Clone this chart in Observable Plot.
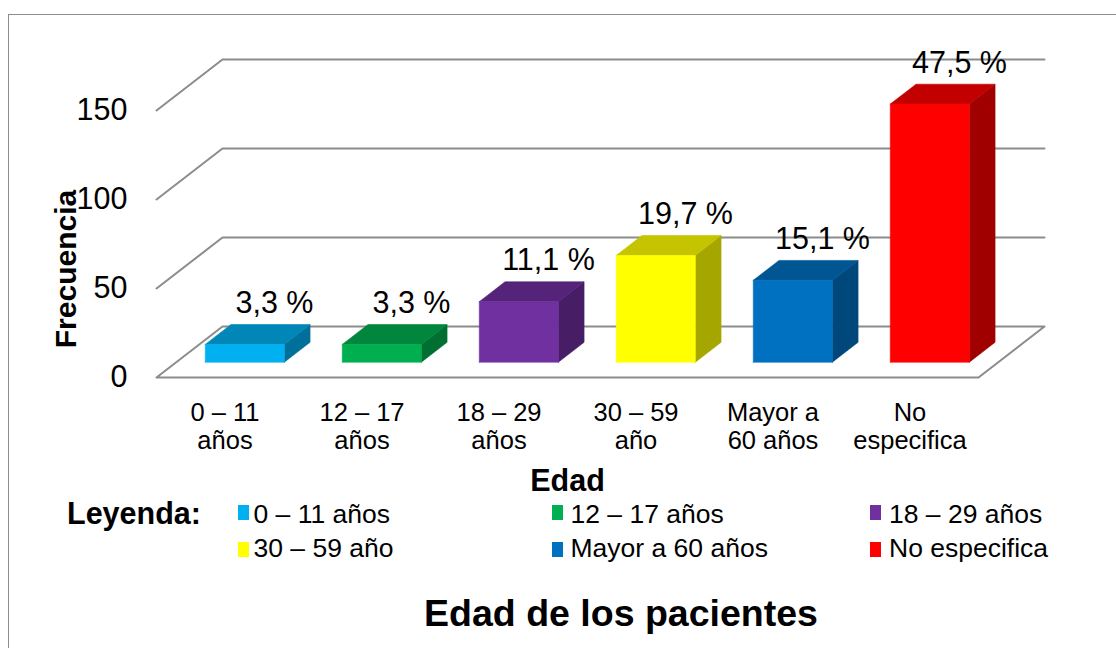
<!DOCTYPE html>
<html>
<head>
<meta charset="utf-8">
<script src="https://cdn.jsdelivr.net/npm/d3@7"></script>
<script src="https://cdn.jsdelivr.net/npm/@observablehq/plot@0.6"></script>
<style>
  html, body { margin: 0; padding: 0; background: #fff; }
  body { font-family: "Liberation Sans", Arial, sans-serif; color: #000; }
  #wrap { position: relative; width: 1116px; height: 648px; overflow: hidden; }
  #border { position: absolute; left: 8px; top: 14px; width: 1200px; height: 700px; border-left: 1px solid #8c8c8c; border-top: 1px solid #8c8c8c; box-sizing: border-box; }
  #chart { position: absolute; left: 0; top: 0; }
  .abs { position: absolute; white-space: nowrap; }
</style>
</head>
<body>
<div id="wrap">
  <div id="border"></div>
  <div id="chart"></div>
</div>
<script>
// ---- data ----
const categories = ["0 – 11 años", "12 – 17 años", "18 – 29 años", "30 – 59 año", "Mayor a 60 años", "No especifica"];
const axisLabels = ["0 – 11\naños", "12 – 17\naños", "18 – 29\naños", "30 – 59\naño", "Mayor a\n60 años", "No\nespecifica"];
const frecuencias = [10, 10, 34, 60, 46, 145];
const porcentajes = ["3,3 %", "3,3 %", "11,1 %", "19,7 %", "15,1 %", "47,5 %"];
const frontColors = ["#00B0F0", "#00B050", "#7030A0", "#FFFF00", "#0070C0", "#FF0000"];
const topColors   = ["#0087B8", "#00873D", "#55247A", "#C4C400", "#005693", "#C20000"];
const sideColors  = ["#00709A", "#006F32", "#471E66", "#A6A600", "#00487C", "#A00000"];
const yTicks = [0, 50, 100, 150];

// ---- 3D projection helpers (in data units) ----
const N = categories.length;
const DX = 66 / 137;       // full depth shift, x units
const DY = 51 / 1.78;      // full depth shift, y units
const D0 = 0.30, D1 = 0.69; // bar front/back depth fraction
const GAP = 0.2115;         // gap on each side of a bar within a category

// gridlines on the back wall + floor
const grid = [];
yTicks.forEach(t => {
  if (t === 0) {
    [[0, 0], [DX, DY], [N + DX, DY], [N, 0], [0, 0]].forEach(([x, y]) => grid.push({k: t, x, y: y + t}));
  } else {
    [[0, 0], [DX, DY], [N + DX, DY]].forEach(([x, y]) => grid.push({k: t, x, y: y + t}));
  }
});

const marks = [Plot.line(grid, {x: "x", y: "y", z: "k", stroke: "#8c8c8c", strokeWidth: 2})];

frecuencias.forEach((v, i) => {
  const xl = i + GAP, xr = i + 1 - GAP;
  const f = d => [d * DX, d * DY];
  const [a0, b0] = f(D0), [a1, b1] = f(D1);
  const front = [[xl + a0, b0], [xr + a0, b0], [xr + a0, v + b0], [xl + a0, v + b0]];
  const top = [[xl + a0, v + b0], [xr + a0, v + b0], [xr + a1, v + b1], [xl + a1, v + b1]];
  const side = [[xr + a0, b0], [xr + a0, v + b0], [xr + a1, v + b1], [xr + a1, b1]];
  const toPts = arr => arr.concat([arr[0]]).map(([x, y]) => ({x, y}));
  marks.push(Plot.line(toPts(side), {x: "x", y: "y", fill: sideColors[i], stroke: sideColors[i], strokeWidth: 0.6}));
  marks.push(Plot.line(toPts(top), {x: "x", y: "y", fill: topColors[i], stroke: topColors[i], strokeWidth: 0.6}));
  marks.push(Plot.line(toPts(front), {x: "x", y: "y", fill: frontColors[i], stroke: frontColors[i], strokeWidth: 0.6}));
});

// y tick labels
marks.push(Plot.text(yTicks, {x: () => 0, y: d => d, text: d => String(d), textAnchor: "end", dx: -29, fontSize: 30.5}));

// data labels (percentages)
const labelData = frecuencias.map((v, i) => ({i, v, t: porcentajes[i]}));
marks.push(Plot.text(labelData, {
  x: d => d.i + 0.5 + 0.75 * DX,
  y: d => d.v + D1 * DY,
  text: "t", lineAnchor: "top", dy: -33, fontSize: 30.5
}));

// category labels
marks.push(Plot.text(axisLabels.map((t, i) => ({i, t})), {
  x: d => d.i + 0.5, y: () => 0, text: "t",
  lineAnchor: "top", dy: 23, fontSize: 25.5, lineHeight: 1.115
}));

// x axis title
marks.push(Plot.text(["Edad"], {
  x: () => N / 2, y: () => 0, text: d => d,
  lineAnchor: "top", dy: 92, fontSize: 30.5, fontWeight: "bold"
}));

const chart = Plot.plot({
  width: 1116,
  height: 510,
  marginLeft: 156,
  marginRight: 138,
  marginTop: 110,
  marginBottom: 133,
  x: {type: "linear", domain: [0, N], axis: null},
  y: {type: "linear", domain: [0, 150], axis: null},
  style: {fontFamily: "'Liberation Sans', Arial, sans-serif", background: "transparent", overflow: "visible", color: "#000"},
  marks
});
document.getElementById("chart").appendChild(chart);

// ---- HTML: y title, legend, title ----
const wrap = document.getElementById("wrap");
function addDiv(text, css) {
  const d = document.createElement("div");
  d.className = "abs";
  d.textContent = text;
  Object.assign(d.style, css);
  wrap.appendChild(d);
  return d;
}

// y axis title, rotated
addDiv("Frecuencia", {
  left: "65.5px", top: "268.5px", fontSize: "30px", fontWeight: "bold", lineHeight: "30px",
  transform: "translate(-50%, -50%) rotate(-90deg)"
});

// legend
addDiv("Leyenda:", {left: "67px", top: "498px", fontSize: "30.5px", fontWeight: "bold", lineHeight: "30px"});
const colSquare = [238, 552, 870];
const colText = [253.5, 570.5, 889];
const rowTop = [501.3, 534.7];
const sqTop = [505, 541.7];
categories.forEach((c, i) => {
  const col = i % 3, row = Math.floor(i / 3);
  const sq = document.createElement("div");
  sq.className = "abs";
  Object.assign(sq.style, {
    left: colSquare[col] + "px", top: sqTop[row] + "px",
    width: "11px", height: "15px", background: frontColors[i]
  });
  wrap.appendChild(sq);
  addDiv(c, {left: colText[col] + "px", top: rowTop[row] + "px", fontSize: "26.5px", lineHeight: "26px"});
});

// chart title
addDiv("Edad de los pacientes", {
  left: "621px", top: "595px", fontSize: "37.5px", fontWeight: "bold", lineHeight: "37px",
  transform: "translateX(-50%)"
});
</script>
</body>
</html>
